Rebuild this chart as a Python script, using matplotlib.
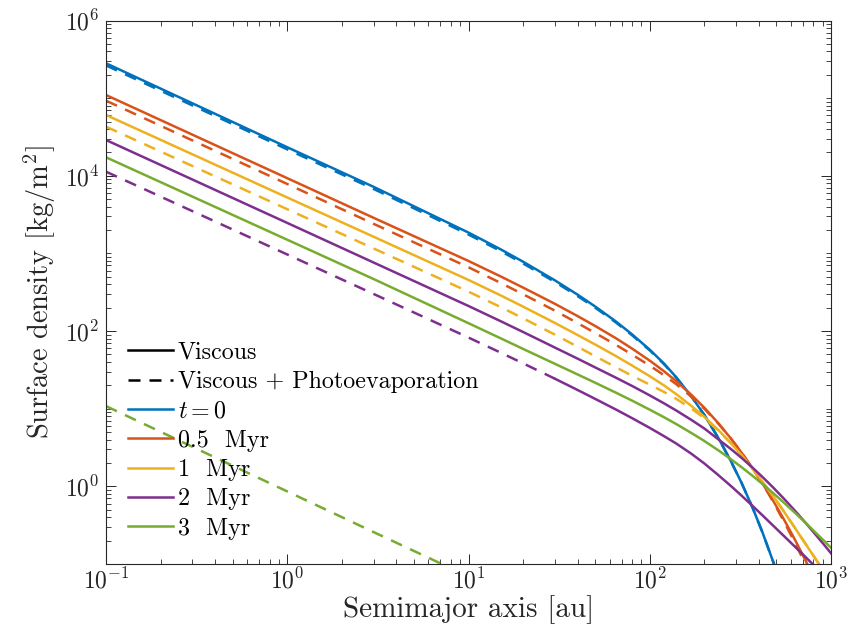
import numpy as np
import matplotlib
matplotlib.use('Agg')
import matplotlib.pyplot as plt
from matplotlib.lines import Line2D
from matplotlib.ticker import FixedLocator, LogLocator, LogFormatterMathtext, NullFormatter

plt.rcParams['font.family'] = 'serif'
plt.rcParams['font.serif'] = ['cmr10']
plt.rcParams['mathtext.fontset'] = 'cm'
plt.rcParams['axes.unicode_minus'] = False
plt.rcParams['axes.formatter.use_mathtext'] = True

# ---------------- data ----------------
radius = [0.1, 1, 3, 10, 15, 20, 30, 40, 50, 65, 80, 100, 120, 140, 170, 200,
          240, 280, 320, 370, 420, 480, 550, 630, 720, 820, 920, 1000]

# t = 0
visc_t0 = [2.81e5, 2.33e4, 7.19e3, 1854, 1133, 782, 449, 294, 207, 133, 90.3, 57.5,
           38.0, 25.4, 14.3, 8.30, 4.12, 2.12, 1.124, 0.524, 0.250, 0.1063, 0.0413]
photo_t0 = [2.64e5, 2.19e4, 6.76e3, 1752, 1076, 743, 429, 282, 200, 129, 88.0, 56.4,
            37.4, 25.1, 14.3, 8.30, 4.12, 2.12, 1.124, 0.524, 0.250, 0.1063, 0.0413]
# 0.5 Myr
visc_05 = [1.097e5, 9.31e3, 2.87e3, 799, 507, 363, 224, 155.8, 116.2, 80.9, 59.3, 41.6,
           30.3, 22.6, 15.0, 10.3, 6.43, 4.14, 2.74, 1.697, 1.078, 0.649, 0.374, 0.2085,
           0.1135, 0.0607]
photo_05 = [9.27e4, 7.84e3, 2.40e3, 663, 418, 298, 183, 126.5, 94.4, 66.5, 49.6, 35.9,
            26.9, 20.7, 14.2, 10.0, 6.35, 4.14, 2.74, 1.697, 1.078, 0.630, 0.352, 0.191,
            0.1008, 0.0539]
# 1 Myr
visc_1 = [6.07e4, 5.25e3, 1637, 455, 289, 206.5, 127.0, 88.9, 67.1, 47.7, 35.9, 26.2,
          19.9, 15.4, 10.8, 7.87, 5.26, 3.61, 2.53, 1.672, 1.137, 0.744, 0.473, 0.295,
          0.1846, 0.117, 0.0783]
photo_1 = [4.29e4, 3.71e3, 1157, 321.6, 204.3, 146.0, 89.8, 62.8, 47.4, 34.2, 26.5, 20.4,
           16.4, 13.4, 10.0, 7.57, 5.18, 3.61, 2.53, 1.672, 1.137, 0.744, 0.473, 0.295,
           0.1846, 0.117, 0.0783]
# 2 Myr
visc_2 = [2.89e4, 2.47e3, 762, 210.3, 134.4, 97.3, 61.2, 44.1, 34.0, 25.1, 19.6, 14.84,
          11.70, 9.48, 7.15, 5.56, 4.00, 3.03, 2.34, 1.733, 1.311, 0.963, 0.693, 0.490,
          0.344, 0.2404, 0.1745, 0.1373]
photo_2 = [1.13e4, 969, 300, 82.4, 52.9, 38.4, 24.3, 17.41, 13.37, 9.77, 7.54, 5.66,
           4.42, 3.56, 2.62, 1.97, 1.383, 1.013, 0.764, 0.557, 0.420, 0.311, 0.229,
           0.1684, 0.1242, 0.0920, 0.0706]
# 3 Myr
visc_3 = [1.73e4, 1.50e3, 467, 126.2, 80.9, 58.9, 37.8, 27.6, 21.6, 16.1, 12.68, 9.71,
          7.75, 6.34, 4.85, 3.84, 2.89, 2.24, 1.774, 1.359, 1.066, 0.816, 0.616, 0.460,
          0.343, 0.255, 0.1965, 0.1616]
radius_photo_3 = [0.1, 1, 3, 8]
photo_3 = [10.8, 0.86, 0.257, 0.088]

labels = ['$t = 0$', '0.5  Myr', '1  Myr', '2  Myr', '3  Myr']
colors = ['#0072BD', '#D95319', '#EDB120', '#7E2F8E', '#77AC30']

x_ticks = [1e-1, 1e0, 1e1, 1e2, 1e3]
y_ticks = [1e0, 1e2, 1e4, 1e6]

# ---------------- figure ----------------
fig = plt.figure(figsize=(8.57, 6.27), dpi=100)
ax = fig.add_axes([0.1237, 0.1005, 0.8460, 0.8668])

lw = 1.8
dash = (0, (4.8, 3.6))

visc = [visc_t0, visc_05, visc_1, visc_2, visc_3]
photo = [photo_t0, photo_05, photo_1, photo_2]
for i in range(5):
    v = visc[i]
    ax.plot(radius[:len(v)], v, color=colors[i], lw=lw)
    if i < 4:
        p = photo[i]
        if i == 3:
            # this curve looks dashed only in the inner disc
            k = 7
            ax.plot(radius[:k], p[:k], color=colors[i], lw=lw, linestyle=dash)
            ax.plot(radius[k - 1:len(p)], p[k - 1:], color=colors[i], lw=lw)
        else:
            ax.plot(radius[:len(p)], p, color=colors[i], lw=lw, linestyle=dash)
ax.plot(radius_photo_3, photo_3, color=colors[4], lw=lw, linestyle=dash)

ax.set_xscale('log')
ax.set_yscale('log')
ax.set_xlim(1e-1, 1e3)
ax.set_ylim(1e-1, 1e6)

ax.xaxis.set_major_locator(FixedLocator(x_ticks))
ax.yaxis.set_major_locator(FixedLocator(y_ticks))
ax.xaxis.set_major_formatter(LogFormatterMathtext())
ax.yaxis.set_major_formatter(LogFormatterMathtext())
ax.xaxis.set_minor_locator(LogLocator(base=10, subs=np.arange(2, 10), numticks=100))
ax.yaxis.set_minor_locator(LogLocator(base=10, subs=np.arange(1, 10), numticks=100))
ax.xaxis.set_minor_formatter(NullFormatter())
ax.yaxis.set_minor_formatter(NullFormatter())

ax.tick_params(which='both', direction='in', top=True, right=True,
               colors='#262626', labelcolor='#262626')
ax.tick_params(which='major', length=7, width=0.7, labelsize=17)
ax.tick_params(axis='x', which='major', pad=3)
ax.tick_params(axis='y', which='major', pad=5)
ax.tick_params(which='minor', length=3.5, width=0.6)
for s in ax.spines.values():
    s.set_color('#262626')
    s.set_linewidth(0.8)

ax.set_xlabel('Semimajor axis [au]', fontsize=21, color='#262626', labelpad=1)
ax.set_ylabel('Surface density [kg/m$^2$]', fontsize=20.5, color='#262626', labelpad=5)

handles = [Line2D([], [], color='black', lw=lw),
           Line2D([], [], color='black', lw=lw, linestyle=dash)]
handles += [Line2D([], [], color=c, lw=lw) for c in colors]
leg_labels = ['Viscous', 'Viscous + Photoevaporation'] + labels
ax.legend(handles, leg_labels, loc='upper left', bbox_to_anchor=(0.0, 0.449),
          frameon=False, fontsize=17.3, handlelength=1.9, handletextpad=0.18,
          labelspacing=0.3, borderaxespad=0.5)

fig.savefig('out.png', dpi=100)
